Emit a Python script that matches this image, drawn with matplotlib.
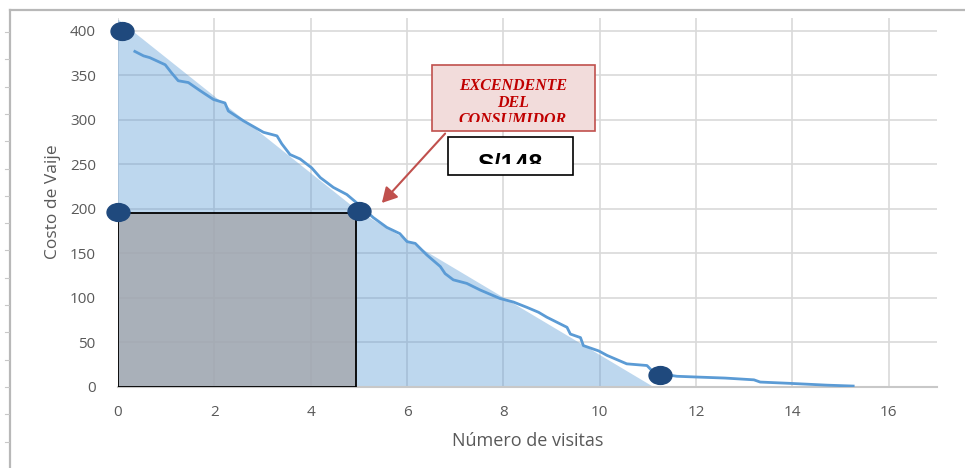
import matplotlib
matplotlib.use("Agg")
import matplotlib.pyplot as plt
import matplotlib.path as mpath
from matplotlib.transforms import Affine2D
from matplotlib.patches import Rectangle, Polygon, FancyArrowPatch
from matplotlib.lines import Line2D

# ---------------- data ----------------
curve_x = [0.35, 0.53, 0.66, 0.98, 1.11, 1.25, 1.46, 1.70, 1.98, 2.22, 2.29, 2.60,
           3.02, 3.30, 3.40, 3.57, 3.78, 4.02, 4.20, 4.47, 4.75, 4.99, 5.30, 5.58,
           5.85, 6.00, 6.17, 6.41, 6.69, 6.79, 6.96, 7.24, 7.52, 7.93, 8.21, 8.49,
           8.73, 8.90, 9.32, 9.39, 9.60, 9.66, 9.98, 10.15, 10.56, 10.98, 11.08,
           11.30, 11.60, 12.09, 12.60, 13.20, 13.33, 13.96, 14.72, 15.26]
curve_y = [377, 372, 370, 362, 353, 344, 342, 333, 323, 319, 310, 299,
           286, 282, 273, 261, 256, 246, 235, 224, 216, 205, 190, 179,
           172, 163, 161, 148, 135, 127, 120, 116, 108.5, 99, 95, 89,
           83.5, 78, 66.6, 59, 55, 46, 40, 35, 25.5, 23.6, 18,
           14, 11.5, 10.5, 9.5, 7.5, 5, 3.5, 1.5, 0.5]

surplus_x = [0, 0, 5.0, 11.1]
surplus_y = [0, 413, 197, 0]

rect_width = 4.93
rect_height = 195

dots_x = [0.08, 0.0, 5.01, 11.26]
dots_y = [400, 196, 197, 13]

x_ticks = [0, 2, 4, 6, 8, 10, 12, 14, 16]
y_ticks = [0, 50, 100, 150, 200, 250, 300, 350, 400]

x_label = "Número de visitas"
y_label = "Costo de Vaije"
callout_lines = ["EXCENDENTE", "DEL", "CONSUMIDOR"]
value_text = "S/148"

# ---------------- figure ----------------
W, H = 965, 468
fig = plt.figure(figsize=(W / 100, H / 100), dpi=100)
plt.rcParams['font.family'] = ['Open Sans', 'DejaVu Sans']

ax_left, ax_right = 118 / W, 937 / W
ax_bottom = 1 - 386.5 / H
ymax = 415
ax_h = ymax * 0.8888 / H
ax = fig.add_axes([ax_left, ax_bottom, ax_right - ax_left, ax_h])
ax.set_xlim(0, 17)
ax.set_ylim(0, ymax)

for s in ['top', 'right', 'left']:
    ax.spines[s].set_visible(False)
ax.spines['bottom'].set_color('#C8C8C8')
ax.spines['bottom'].set_linewidth(1.5)
ax.set_xticks(x_ticks)
ax.set_yticks(y_ticks)
ax.tick_params(length=0, labelsize=11, labelcolor='#595959')
ax.tick_params(axis='x', pad=13)
ax.tick_params(axis='y', pad=16)
ax.grid(True, color='#D9D9D9', linewidth=1.2)
ax.set_axisbelow(True)

ax.set_xlabel(x_label, fontsize=13, color='#595959', labelpad=9)
ax.set_ylabel(y_label, fontsize=12.5, color='#595959', labelpad=6)

# consumer surplus area
ax.add_patch(Polygon(list(zip(surplus_x, surplus_y)), closed=True,
                     facecolor='#5B9BD5', alpha=0.4, edgecolor='none',
                     zorder=2, clip_on=False))
# expenditure rectangle
ax.add_patch(Rectangle((0, 0), rect_width, rect_height, facecolor='#A5A7AC',
                       alpha=0.8, edgecolor='none', zorder=3))
ax.add_patch(Rectangle((0, 0), rect_width, rect_height, facecolor='none',
                       edgecolor='black', linewidth=1.3, zorder=4))

# demand curve
ax.plot(curve_x, curve_y, color='#5B9BD5', linewidth=2.0, zorder=5,
        solid_joinstyle='round')

# elliptical markers
ell = mpath.Path.unit_circle().transformed(Affine2D().scale(1.0, 0.78))
ax.plot(dots_x, dots_y, linestyle='none', marker=ell, markersize=16.5,
        color='#1F497D', zorder=6, clip_on=False)

# ---------------- callout boxes (figure pixel coords) ----------------
def px(x, y):
    return x / W, 1 - y / H

# pink box
bx0, by0, bx1, by1 = 431.5, 65, 595, 131
pink = Rectangle(px(bx0, by1), (bx1 - bx0) / W, (by1 - by0) / H,
                 transform=fig.transFigure, facecolor='#F2DCDB',
                 edgecolor='#C0504D', linewidth=1.2, zorder=10)
fig.add_artist(pink)
clip1 = Rectangle(px(bx0, 121.5), (bx1 - bx0) / W, (121.5 - by0) / H,
                  transform=fig.transFigure, facecolor='none', edgecolor='none')
fig.add_artist(clip1)
for i, t in enumerate(callout_lines):
    tx = fig.text(*px(513, 86 + i * 16.8), t, ha='center', va='center',
                  fontsize=11.5, color='#C00000', family='Liberation Serif',
                  style='italic', weight='bold', zorder=11)
    tx.set_clip_path(clip1)

# white value box
wx0, wy0, wx1, wy1 = 448, 137, 573, 175
white = Rectangle(px(wx0, wy1), (wx1 - wx0) / W, (wy1 - wy0) / H,
                  transform=fig.transFigure, facecolor='white',
                  edgecolor='black', linewidth=1.2, zorder=10)
fig.add_artist(white)
clip2 = Rectangle(px(wx0, 164), (wx1 - wx0) / W, (164 - wy0) / H,
                  transform=fig.transFigure, facecolor='none', edgecolor='none')
fig.add_artist(clip2)
vt = fig.text(*px(510, 171), value_text, ha='center', va='baseline',
              fontsize=18, fontweight='bold', color='black',
              family='Liberation Sans', zorder=11)
vt.set_clip_path(clip2)

# arrow
arr = FancyArrowPatch(px(447, 131.5), px(380, 205), transform=fig.transFigure,
                      arrowstyle='-|>,head_length=9,head_width=5',
                      mutation_scale=1, color='#C0504D', linewidth=1.5,
                      zorder=9)
fig.add_artist(arr)

# outer frame (ruler-like border)
fig.add_artist(Line2D([10 / W, 10 / W], [0, 1 - 10 / H], transform=fig.transFigure,
                      color='#B8B8B8', linewidth=1.6))
fig.add_artist(Line2D([10 / W, 1], [1 - 10 / H, 1 - 10 / H], transform=fig.transFigure,
                      color='#B8B8B8', linewidth=1.6))
tick_y = [32 + 27.3 * k for k in range(16)]
for ty in tick_y:
    fig.add_artist(Line2D([5 / W, 9 / W], [1 - ty / H, 1 - ty / H],
                          transform=fig.transFigure, color='#C8C8C8', linewidth=0.8))

fig.savefig('out.png', dpi=100)
